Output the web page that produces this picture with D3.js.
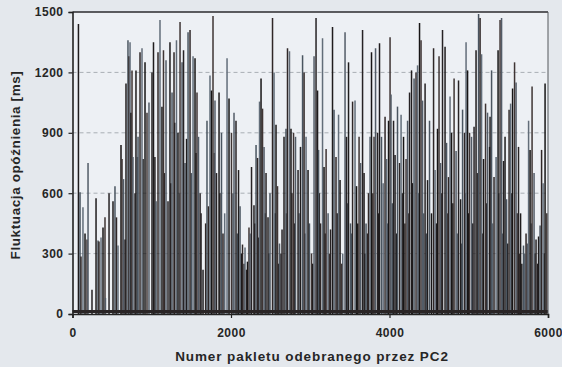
<!DOCTYPE html>
<html>
<head>
<meta charset="utf-8">
<script src="https://cdn.jsdelivr.net/npm/d3@7"></script>
<style>
  html,body{margin:0;padding:0;background:#e4e8ed;}
  svg{display:block;}
  text{font-family:"Liberation Sans",Arial,sans-serif;}
</style>
</head>
<body>
<svg id="chart" width="562" height="367"></svg>
<script>
// ---- data ----
const xTicks = [0, 2000, 4000, 6000];
const yTicks = [0, 300, 600, 900, 1200, 1500];
const gridValues = [300, 600, 900, 1200];

// tall spikes: packet number and delay fluctuation [ms]
const spikePackets = [
  75,95,107,132,158,183,196,246,297,322,334,360,385,410,416,461,511,536,555,574,612,625,644,663,675,700,
  713,726,738,751,763,789,801,827,852,877,915,940,965,1003,1022,1054,1079,1104,1129,1148,1180,1205,1230,1256,1281,1312,1331,1357,1382,1401,1439,1458,
  1483,1521,1546,1571,1590,1622,1647,1697,1716,1735,1754,1773,1798,1817,1849,1880,1899,1950,1975,2006,2038,2063,2095,2114,2145,2177,2208,2227,
  2240,2259,2290,2316,2335,2360,2379,2398,2417,2442,2467,2492,2524,2543,2568,2587,2612,2644,2669,2694,2713,2738,2757,2789,2814,2846,2877,2903,2922,2947,2972,
  3016,3048,3073,3092,3105,3130,3155,3174,3200,3225,3256,3281,3300,3325,3357,3376,3395,3439,3458,3483,3508,3534,3565,3584,3616,3635,3660,3679,3704,3735,3754,
  3773,3805,3824,3849,3874,3899,3944,3963,3988,4007,4019,4051,4070,4101,4127,4146,4177,4209,4228,4253,4278,4310,4335,4354,4379,4398,4417,4449,4480,4505,
  4556,4575,4606,4625,4644,4669,4701,4720,4745,4764,4783,4815,4840,4871,4897,4922,4947,4966,4985,5010,5035,5067,5092,5124,5143,5162,5187,5212,5237,5263,
  5269,5288,5319,5345,5370,5395,5414,5439,5458,5477,5509,5528,5553,5578,5597,5628,5654,5691,5723,5755,5774,5799,5824,5849,5881,5900,5919,5938,5963
];
const spikeValues = [
  1440,605,285,530,400,370,750,120,575,365,360,380,430,480,80,600,560,635,480,340,840,770,670,370,1145,1360,
  1280,1350,1000,1210,780,600,1210,880,1300,1320,1250,1000,1050,1200,1350,560,1300,1460,1030,1310,1260,560,1350,1100,1300,1360,900,1450,1250,1310,870,1400,
  1410,1280,1270,1100,880,500,220,960,535,1185,1110,1480,1060,700,1100,900,400,1270,1070,900,1000,960,715,535,345,330,260,430,
  400,730,540,840,775,1055,1170,1020,830,700,480,600,1470,1200,940,635,350,420,880,920,1320,1305,920,900,880,715,830,1285,1200,880,715,
  300,1280,1470,1110,815,450,1370,730,820,500,420,1425,1015,780,990,665,250,1400,880,1250,450,1055,1060,635,880,750,1410,700,450,600,880,
  1300,880,1320,900,1345,880,980,770,960,1375,1090,960,790,1030,750,990,880,770,960,1100,1210,1170,1200,1235,1445,1360,1060,1145,665,960,
  1320,715,920,1280,750,1410,1327,850,680,1080,900,1170,810,1160,570,1015,900,1350,1210,900,880,930,1310,1490,1470,1290,770,1045,1000,830,
  980,1210,680,780,1310,1460,1470,760,880,570,1015,1045,1120,1250,1150,830,500,340,400,960,815,1130,700,370,385,440,815,650,1145
];

// additional medium-height lines
const midPackets = [
  820,890,1040,1160,1240,1290,1350,1420,1500,1560,1610,1680,1790,1860,1920,2025,2080,2130,2165,2195,
  2300,2350,2430,2480,2555,2600,2630,2700,2770,2800,2860,2935,2990,3030,3115,3190,3240,3340,3410,3470,
  3520,3600,3690,3720,3790,3860,3920,3975,4035,4090,4160,4195,4240,4290,4365,4430,4465,4530,4590,4655,
  4730,4800,4855,4910,4955,5000,5050,5110,5175,5225,5300,5380,5430,5490,5540,5610,5640,5670,5705,5740,
  5790,5835,5870,5950,5985
];
const midValues = [
  780,770,780,700,650,950,600,750,700,800,600,450,800,600,500,600,400,300,250,220,
  450,380,500,300,500,250,300,500,600,450,500,400,450,250,600,400,300,500,300,550,
  400,450,300,400,600,500,650,450,550,400,600,450,500,650,600,500,400,500,450,600,
  500,550,400,350,600,500,450,700,400,550,450,600,400,350,600,500,300,250,300,350,
  450,300,250,300,500
];

// dense lower mass (approximate upper level of the dark band)
const floorPackets = [0,200,400,600,700,800,1000,1200,1400,1600,1800,2000,2200,2400,2600,2800,3000,3200,3400,3600,3800,4000,4200,4400,4600,4800,5000,5200,5400,5600,5800,6000];
const floorValues  = [30,28,32,40,90,130,160,175,160,185,170,200,215,185,150,140,165,175,150,185,200,215,200,185,220,210,185,200,175,225,205,185];

// ---- drawing ----
const svg = d3.select("#chart");
const x = d3.scaleLinear().domain([0, 6000]).range([72.5, 548]);
const y = d3.scaleLinear().domain([0, 1500]).range([314, 12]);

svg.append("rect")
  .attr("x", x(0)).attr("y", y(1500))
  .attr("width", x(6000) - x(0)).attr("height", y(0) - y(1500))
  .attr("fill", "#edf0f4");

svg.append("g").selectAll("line").data(gridValues).join("line")
  .attr("x1", x(0)).attr("x2", x(6000))
  .attr("y1", d => y(d)).attr("y2", d => y(d))
  .attr("stroke", "#a9aeb4").attr("stroke-width", 1)
  .attr("stroke-dasharray", "4,3");

const floorData = floorPackets.map((p, i) => [p, floorValues[i]]);
svg.append("path")
  .datum(floorData)
  .attr("d", d3.area().x(d => x(d[0])).y0(y(0)).y1(d => y(d[1])).curveMonotoneX)
  .attr("fill", "#322c2d");

const palette = ["#1f1c1d", "#4a5560", "#2f2727", "#626d79", "#171515", "#3f3534", "#535c67", "#262224"];

const midData = midPackets.map((p, i) => [p, midValues[i]]);
svg.append("g").selectAll("line").data(midData).join("line")
  .attr("x1", d => x(d[0])).attr("x2", d => x(d[0]))
  .attr("y1", y(0)).attr("y2", d => y(d[1]))
  .attr("stroke", (d, i) => palette[(i * 3 + 1) % palette.length])
  .attr("stroke-width", 1.5);

const spikeData = spikePackets.map((p, i) => [p, spikeValues[i]]);
svg.append("g").selectAll("line").data(spikeData).join("line")
  .attr("x1", d => x(d[0])).attr("x2", d => x(d[0]))
  .attr("y1", y(0)).attr("y2", d => y(d[1]))
  .attr("stroke", (d, i) => palette[i % palette.length])
  .attr("stroke-width", 1.5);

// baseline band at the bottom
svg.append("line").attr("x1", x(0)).attr("x2", x(6000)).attr("y1", y(12)).attr("y2", y(12))
  .attr("stroke", "#2a2526").attr("stroke-width", 3);

svg.append("line").attr("x1", x(0)).attr("x2", x(6000)).attr("y1", y(1500)).attr("y2", y(1500))
  .attr("stroke", "#2b2b2e").attr("stroke-width", 1.6);
svg.append("line").attr("x1", x(6000)).attr("x2", x(6000)).attr("y1", y(1500)).attr("y2", y(0))
  .attr("stroke", "#55585c").attr("stroke-width", 1);

const xAxis = d3.axisBottom(x).tickValues(xTicks).tickSize(4).tickPadding(10).tickFormat(d3.format("d"));
const gx = svg.append("g").attr("transform", `translate(0,${y(0)})`).call(xAxis);
const yAxis = d3.axisLeft(y).tickValues(yTicks).tickSize(4).tickPadding(5).tickFormat(d3.format("d"));
const gy = svg.append("g").attr("transform", `translate(${x(0)},0)`).call(yAxis);

[gx, gy].forEach(g => {
  g.select(".domain").attr("stroke", "#222").attr("stroke-width", 1.6);
  g.selectAll(".tick line").attr("stroke", "#222").attr("stroke-width", 1.2);
  g.selectAll(".tick text")
    .attr("font-family", "'Liberation Sans', Arial, sans-serif")
    .attr("font-size", 12).attr("font-weight", "bold").attr("fill", "#262626")
    .attr("letter-spacing", "0.5px");
});

svg.append("text")
  .attr("x", 312).attr("y", 361)
  .attr("text-anchor", "middle")
  .attr("font-size", 13.5).attr("font-weight", "bold").attr("fill", "#262626")
  .attr("letter-spacing", "0.9px")
  .text("Numer pakletu odebranego przez PC2");

svg.append("text")
  .attr("transform", "translate(20,165) rotate(-90)")
  .attr("text-anchor", "middle")
  .attr("font-size", 13.5).attr("font-weight", "bold").attr("fill", "#262626")
  .attr("letter-spacing", "0.6px")
  .text("Fluktuacja opóźnienia [ms]");
</script>
</body>
</html>
